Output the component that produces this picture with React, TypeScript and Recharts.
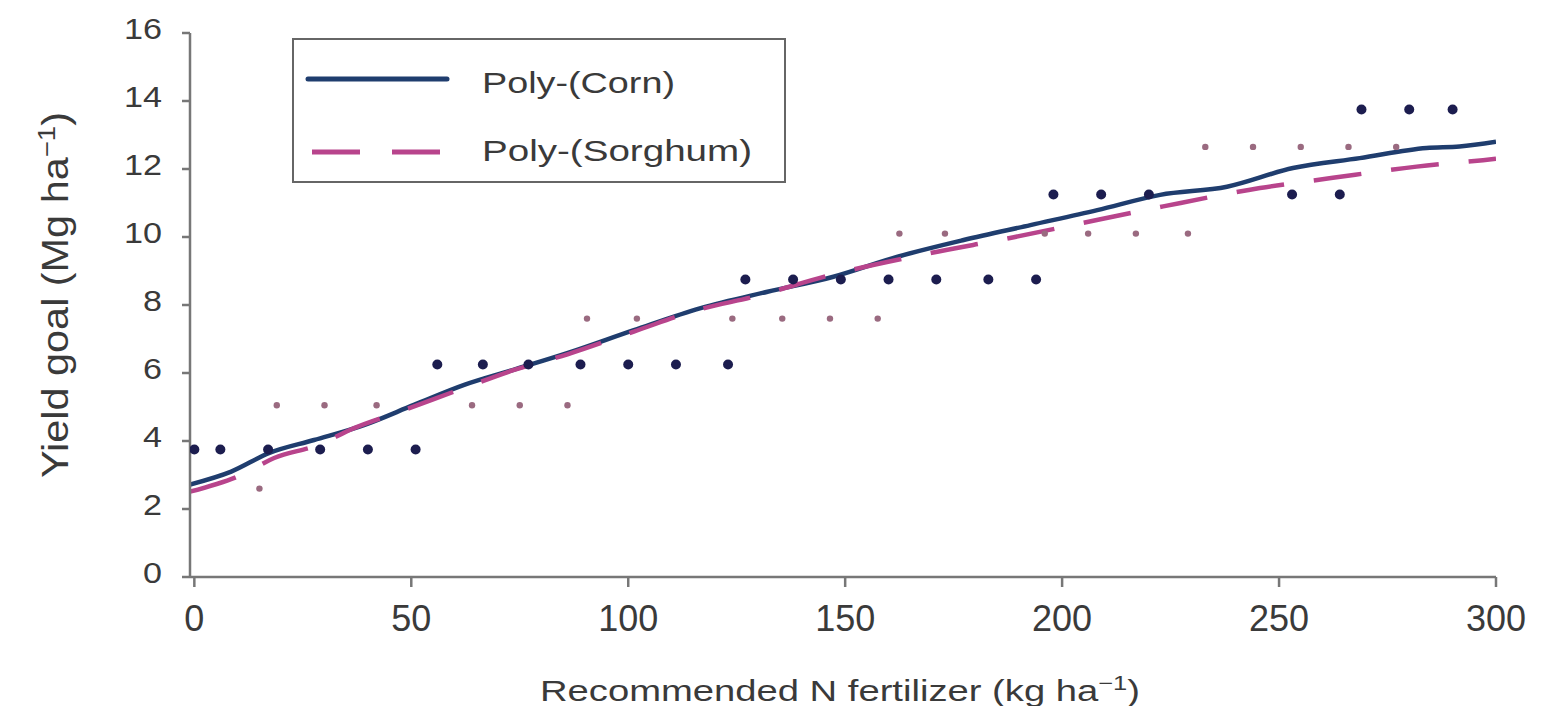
import React from 'react';
import { ComposedChart, Line, Scatter, XAxis, YAxis, Legend } from 'recharts';

// observed points
const cornN = [0, 6, 17, 29, 40, 51, 56, 66.5, 77, 89, 100, 111, 123, 127, 138, 149, 160, 171, 183, 194, 198, 209, 220, 253, 264, 269, 280, 290];
const cornYield = [3.75, 3.75, 3.75, 3.75, 3.75, 3.75, 6.25, 6.25, 6.25, 6.25, 6.25, 6.25, 6.25, 8.75, 8.75, 8.75, 8.75, 8.75, 8.75, 8.75, 11.25, 11.25, 11.25, 11.25, 11.25, 13.75, 13.75, 13.75];

const sorghumN = [15, 19, 30, 42, 64, 75, 86, 90.5, 102, 124, 135.5, 146.5, 157.5, 162.5, 173, 196, 206, 217, 229, 233, 244, 255, 266, 277];
const sorghumYield = [2.6, 5.05, 5.05, 5.05, 5.05, 5.05, 5.05, 7.6, 7.6, 7.6, 7.6, 7.6, 7.6, 10.1, 10.1, 10.1, 10.1, 10.1, 10.1, 12.65, 12.65, 12.65, 12.65, 12.65];

// poly trend lines
const cornTrendN = [-1, 8.5, 17.3, 27.6, 39.1, 50.6, 62.2, 73.7, 86.1, 101.3, 116.7, 132.1, 147.3, 162.1, 177.3, 192.7, 208.1, 222.6, 238, 253.2, 268.6, 284, 291.6, 300];
const cornTrendY = [2.72, 3.1, 3.65, 4.03, 4.47, 5.06, 5.65, 6.1, 6.59, 7.26, 7.91, 8.39, 8.83, 9.42, 9.91, 10.35, 10.79, 11.24, 11.48, 12.03, 12.32, 12.62, 12.66, 12.8];

const sorghumTrendN = [-1, 10.8, 18.4, 28.5, 36.8, 47, 62.2, 73.7, 86, 101.3, 116.7, 128.9, 146.6, 169.7, 188, 208, 223.3, 245.6, 262.4, 281.7, 297, 300];
const sorghumTrendY = [2.51, 3.0, 3.5, 3.88, 4.38, 4.85, 5.56, 6.09, 6.55, 7.22, 7.88, 8.24, 8.88, 9.53, 9.97, 10.5, 10.9, 11.44, 11.74, 12.07, 12.26, 12.3];

const xTicks = [0, 50, 100, 150, 200, 250, 300];
const yTicks = [0, 2, 4, 6, 8, 10, 12, 14, 16];

const FONT = '"Liberation Sans", Arial, sans-serif';
const AXIS = '#777';
const TEXT = '#3a3a3a';
const CORN_LINE = '#1f3d6e';
const CORN_DOT = '#1c1d4f';
const SORGHUM_LINE = '#b8448c';
const SORGHUM_DOT = '#9a6a80';

const zip = (xs: number[], ys: number[]) => xs.map((n, i) => ({ n, y: ys[i] }));

const XTick = ({ x, y, payload }: any) => (
  <text x={x} y={y} dy="0.71em" textAnchor="middle" fontSize={36} fontFamily={FONT} fill={TEXT}>
    {payload.value}
  </text>
);

const YTick = ({ x, y, payload }: any) => {
  const s = String(payload.value);
  return (
    <text x={x} y={y - 4} textAnchor="end" dominantBaseline="central" fontSize={29} fontFamily={FONT} fill={TEXT}
      textLength={s.length * 19} lengthAdjust="spacingAndGlyphs">
      {s}
    </text>
  );
};

const LegendBox = () => (
  <svg width={494} height={145} style={{ display: 'block' }}>
    <rect x={1} y={1} width={492} height={143} fill="#fff" stroke="#666" strokeWidth={2} />
    <line x1={16} y1={41} x2={155} y2={41} stroke={CORN_LINE} strokeWidth={5} strokeLinecap="round" />
    <text x={190} y={55} fontSize={30} fontFamily={FONT} fill={TEXT} textLength={193} lengthAdjust="spacingAndGlyphs">Poly-(Corn)</text>
    <line x1={20} y1={114} x2={150} y2={114} stroke={SORGHUM_LINE} strokeWidth={5} strokeDasharray="48 32" />
    <text x={190} y={123} fontSize={30} fontFamily={FONT} fill={TEXT} textLength={270} lengthAdjust="spacingAndGlyphs">Poly-(Sorghum)</text>
  </svg>
);

export default function App() {
  const cornPts = zip(cornN, cornYield);
  const sorghumPts = zip(sorghumN, sorghumYield);
  const cornTrend = zip(cornTrendN, cornTrendY);
  const sorghumTrend = zip(sorghumTrendN, sorghumTrendY);

  return (
    <div style={{ width: 1546, height: 698, background: '#fff' }}>
      <ComposedChart width={1546} height={698} margin={{ top: 25, right: 58, left: 0, bottom: 0 }}>
        <XAxis
          dataKey="n"
          type="number"
          domain={[-1, 300]}
          ticks={xTicks}
          allowDataOverflow
          stroke={AXIS}
          strokeWidth={2.5}
          tickSize={10}
          tickMargin={18}
          tick={<XTick />}
          height={129}
          label={{
            content: () => (
              <text x={832} y={693} textAnchor="middle" fontSize={30} fontFamily={FONT} fill={TEXT}
                textLength={600} lengthAdjust="spacingAndGlyphs">
                Recommended N fertilizer (kg ha<tspan baselineShift="super" fontSize={20}>−1</tspan>)
              </text>
            ),
          }}
        />
        <YAxis
          dataKey="y"
          type="number"
          domain={[0, 16]}
          ticks={yTicks}
          stroke={AXIS}
          strokeWidth={2.5}
          tickSize={8}
          tickMargin={20}
          tick={<YTick />}
          width={182}
          label={{
            content: () => (
              <text x={60} y={287} transform="rotate(-90 60 287)" textAnchor="middle" fontSize={36} fontFamily={FONT}
                fill={TEXT} textLength={366} lengthAdjust="spacingAndGlyphs">
                Yield goal (Mg ha<tspan baselineShift="super" fontSize={24}>−1</tspan>)
              </text>
            ),
          }}
        />
        <Scatter
          name="Corn"
          data={cornPts}
          dataKey="y"
          isAnimationActive={false}
          shape={(p: any) => <circle cx={p.cx} cy={p.cy} r={5} fill={CORN_DOT} />}
        />
        <Scatter
          name="Sorghum"
          data={sorghumPts}
          dataKey="y"
          isAnimationActive={false}
          shape={(p: any) => <circle cx={p.cx} cy={p.cy} r={3.2} fill={SORGHUM_DOT} />}
        />
        <Line
          data={cornTrend}
          dataKey="y"
          type="monotone"
          stroke={CORN_LINE}
          strokeWidth={4.5}
          dot={false}
          activeDot={false}
          isAnimationActive={false}
        />
        <Line
          data={sorghumTrend}
          dataKey="y"
          type="monotone"
          stroke={SORGHUM_LINE}
          strokeWidth={4.5}
          strokeDasharray="48 30"
          dot={false}
          activeDot={false}
          isAnimationActive={false}
        />
        <Legend
          layout="horizontal"
          verticalAlign="middle"
          align="center"
          content={() => <LegendBox />}
          wrapperStyle={{ position: 'absolute', left: 284, top: 30, width: 494, height: 145 }}
        />
      </ComposedChart>
    </div>
  );
}
